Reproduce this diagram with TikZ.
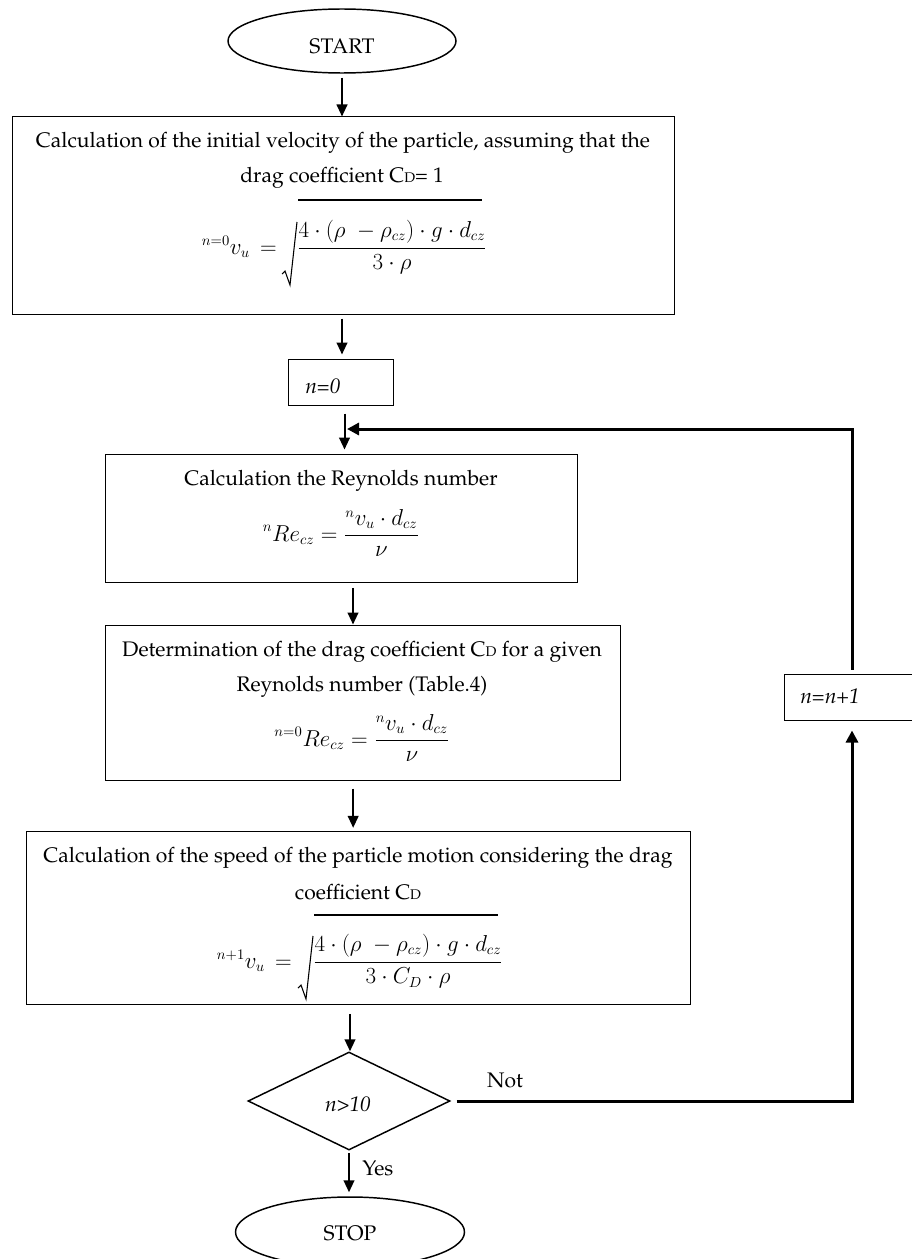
\documentclass[tikz,border=0pt]{standalone}
\usepackage[T1]{fontenc}
\usepackage{amsmath}
\renewcommand{\rmdefault}{ppl}
\usetikzlibrary{shapes.geometric,arrows.meta,fit}
\newcommand{\thkfrac}[2]{\genfrac{}{}{1.1pt}{0}{#1}{#2}}
\begin{document}
\begin{tikzpicture}[x=0.75pt,y=-0.75pt,
  box/.style={draw,line width=0.75pt,inner sep=0pt,rectangle},
  term/.style={draw,ellipse,line width=1.1pt,inner sep=0pt},
  arr/.style={line width=1.5pt,-{Triangle[length=9pt,width=8pt]}},
  fbarr/.style={line width=2.25pt,-{Triangle[length=9pt,width=9pt]}},
  txt/.style={inner sep=0pt,font=\fontsize{15.8}{18}\selectfont},
  mth/.style={inner sep=0pt,font=\fontsize{16}{20}\selectfont},
  rad/.style={line width=0.8pt,line join=miter},
  ovl/.style={line width=1.5pt},
]
\useasboundingbox (0,0) rectangle (912,1259);

% terminals
\node[term,minimum width=171pt,minimum height=48pt] (start) at (342,41) {};
\node[txt] (starttxt) at (342,46) {START};
\node[term,minimum width=171.75pt,minimum height=52.5pt] (stop) at (350,1232) {};
\node[txt] (stoptxt) at (350,1233) {STOP};

% boxes
\node[box,fit={(12,117) (674,314)}] (b1) {};
\node[box,fit={(288,359) (393,405)}] (n0) {};
\node[box,fit={(105,454) (577,582)}] (b2) {};
\node[box,fit={(105,625) (620,780)}] (b3) {};
\node[box,fit={(26,831) (690,1004)}] (b4) {};
\node[box,fit={(784,674) (940,720)}] (inc) {};
\node[draw,diamond,line width=1.1pt,inner sep=0pt,minimum width=151.5pt,minimum height=73.5pt] (dia) at (349,1101) {};

% box 1
\node[txt] (t1a) at (343,143) {Calculation of the initial velocity of the particle, assuming that the};
\node[txt] (t1b) at (342,178) {drag coefficient C{\fontsize{10.5}{10.5}\selectfont D}= 1};
\draw[ovl] (298,200) -- (482,200);
\draw[rad] (282,274) -- (285,271) -- (290,285) -- (297,222);
\node[mth,anchor=base east] (f1a) at (277,254) {$^{n=0}v_u\,=$};
\node[mth,anchor=base] (f1b) at (392,254) {$\displaystyle\thkfrac{4\cdot(\rho\;-\rho_{cz})\cdot g\cdot d_{cz}}{3\cdot\rho}$};

% n=0
\node[txt,anchor=west] (t0) at (305,386) {\itshape n=0};

% box 2
\node[txt] (t2a) at (341,481) {Calculation the Reynolds number};
\node[mth,anchor=base] (f2) at (341,541) {$\displaystyle {}^{n}Re_{cz}=\thkfrac{{}^{n}v_u\cdot d_{cz}}{\nu}$};

% box 3
\node[txt] (t3a) at (362,652) {Determination of the drag coefficient C{\fontsize{10.5}{10.5}\selectfont D} for a given};
\node[txt] (t3b) at (362,687) {Reynolds number (Table.4)};
\node[mth,anchor=base] (f3) at (362,746) {$\displaystyle {}^{n=0}Re_{cz}=\thkfrac{{}^{n}v_u\cdot d_{cz}}{\nu}$};

% box 4
\node[txt] (t4a) at (358,858) {Calculation of the speed of the particle motion considering the drag};
\node[txt] (t4b) at (358,892) {coefficient C{\fontsize{10.5}{10.5}\selectfont D}};
\draw[ovl] (314,915) -- (498,915);
\draw[rad] (298,988) -- (301,985) -- (306,999) -- (313,936);
\node[mth,anchor=base east] (f4a) at (292,968) {$^{n+1}v_u\,=$};
\node[mth,anchor=base] (f4b) at (408,968) {$\displaystyle\thkfrac{4\cdot(\rho\;-\rho_{cz})\cdot g\cdot d_{cz}}{3\cdot C_D\cdot\rho}$};

% n=n+1 and decision
\node[txt,anchor=west] (tinc) at (800,696) {\itshape n=n+1};
\node[txt] (tdia) at (348,1104) {\itshape n>10};
\node[txt] (tnot) at (505,1080) {Not};
\node[txt,anchor=west] (tyes) at (362,1168) {Yes};

% coordinates for loop
\coordinate (c1) at (852,1101);
\coordinate (c2) at (852,429);
\coordinate (join) at (347,429);

% main arrows
\draw[arr,shorten <=3pt] (start.south) -- (start.south |- b1.north);
\draw[arr,shorten <=3pt,shorten >=3pt] ([xshift=-0.75pt]b1.south) -- ([xshift=-0.75pt]b1.south |- n0.north);
\draw[arr,shorten <=6pt,shorten >=3pt] ([xshift=3pt]n0.south) -- ([xshift=3pt]n0.south |- b2.north);
\draw[arr,shorten <=4pt,shorten >=0pt] ([xshift=9pt]b2.south) -- ([xshift=9pt]b2.south |- b3.north);
\draw[arr,shorten <=6pt,shorten >=2pt] ([xshift=-7pt]b3.south) -- ([xshift=-7pt]b3.south |- b4.north);
\draw[arr,shorten <=7pt] ([xshift=-6pt]b4.south) -- ([xshift=-6pt]b4.south |- dia.north);
\draw[arr,shorten <=2pt,shorten >=3pt] (dia.south) -- (dia.south |- stop.north);

% loop
\draw[fbarr] ([xshift=4.5pt]dia.east) -- (c1) -- ([yshift=-7.5pt]inc.south -| c1);
\draw[fbarr,shorten <=3pt] (inc.north -| c2) -- (c2) -- (join);
\end{tikzpicture}
\end{document}
